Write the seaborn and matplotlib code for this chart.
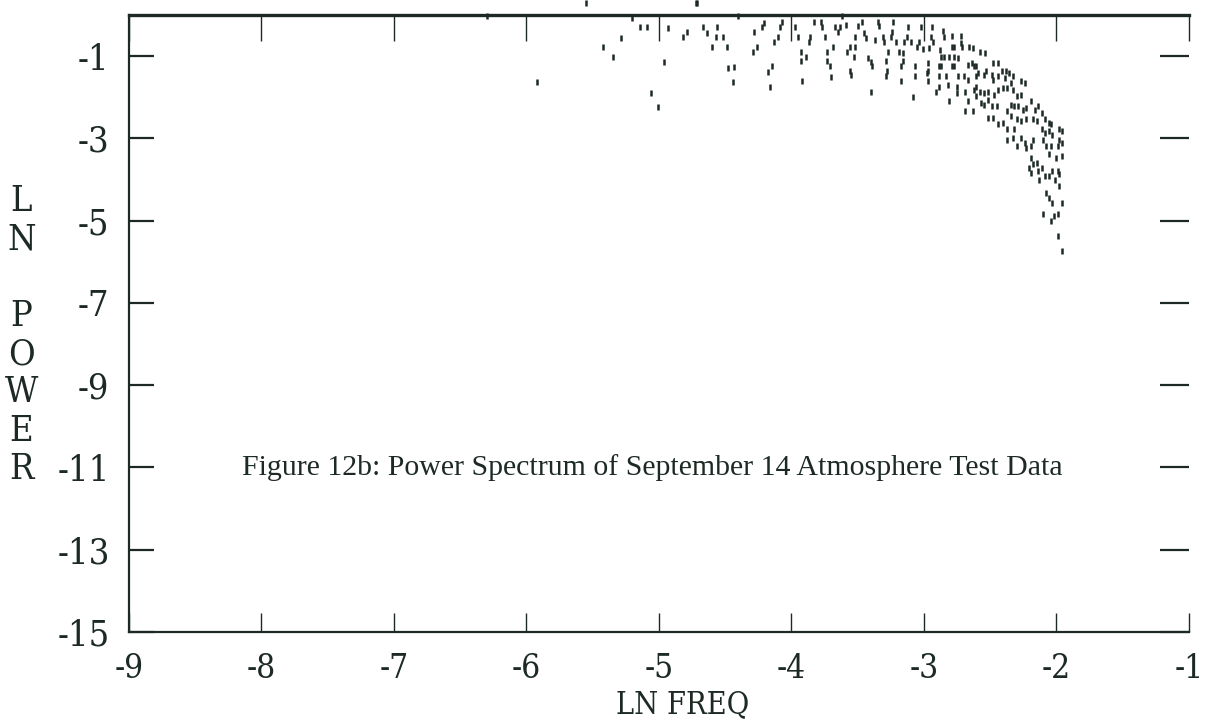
import matplotlib
matplotlib.use("Agg")
import matplotlib.pyplot as plt
import seaborn as sns
import pandas as pd

# ---- data (ln freq, ln power) ----
ln_freq = [
    -5.55, -4.72, -4.71, -6.30, -5.92,
    -5.20, -5.14, -5.09, -5.29, -5.42, -5.35, -4.93, -4.96, -5.06, -5.01,
    -4.82, -4.79, -4.67, -4.64, -4.56, -4.57, -4.52, -4.60, -4.49, -4.48,
    -4.43, -4.44, -4.40,
    -4.21, -4.22, -4.28, -4.07, -4.09, -3.97, -4.10, -4.13, -4.26, -4.29,
    -3.95, -3.86, -3.87, -3.93, -3.89, -3.93, -3.83, -3.78, -3.77, -3.75,
    -3.67, -3.63, -3.59, -3.65, -3.69, -3.73, -3.73, -3.71, -3.70, -3.62,
    -3.52, -3.56, -3.52, -3.58, -3.53, -3.56, -3.55, -3.50, -3.47, -3.45,
    -3.44, -3.42, -3.40, -3.39, -3.40, -3.35, -3.34, -3.37, -3.31, -3.30,
    -3.27, -3.29, -3.28, -3.29, -4.15, -4.18, -4.16, -3.92,
    -3.23, -3.24, -3.25, -3.21, -3.12, -3.13, -3.15, -3.10, -3.02, -2.94,
    -2.95, -2.93, -3.04, -3.05, -3.19, -3.16, -3.01, -2.96, -2.86, -2.85,
    -2.79, -2.72, -2.79, -2.77, -2.72, -2.71, -2.66, -2.88, -2.87, -2.85,
    -2.81, -2.77, -2.74, -3.16, -3.17, -3.07, -2.97, -2.97, -2.89, -2.87,
    -2.79, -2.77, -2.67, -2.64, -2.61, -3.07, -2.98, -2.89, -2.83, -2.74,
    -2.70, -2.67, -2.61, -3.17, -2.97, -2.89, -2.82, -2.91, -2.75, -2.75,
    -2.69, -2.61, -2.61, -3.08, -2.81, -2.67, -2.69, -2.63, -2.57,
    -2.63, -2.58, -2.54, -2.62, -2.59, -2.55, -2.53, -2.48, -2.44, -2.49,
    -2.48, -2.44, -2.41, -2.38, -2.39, -2.36, -2.33, -2.34, -2.62, -2.58,
    -2.55, -2.52, -2.55, -2.52, -2.47, -2.44, -2.40, -2.37, -2.33, -2.27,
    -2.24, -2.30, -2.27, -2.49, -2.45, -2.34, -2.32, -2.29, -2.25, -2.23,
    -2.19, -2.16, -2.14, -2.11, -2.52, -2.48, -2.44, -2.40, -2.37, -2.34,
    -2.30, -2.27, -2.23, -2.18, -2.15, -2.09, -2.06, -2.04, -2.11, -2.09,
    -2.06, -2.03, -1.98, -1.96, -2.37, -2.32, -2.37, -2.33, -2.30, -2.23,
    -2.19, -2.18, -2.27, -2.24, -2.10, -2.08, -2.04, -1.98, -1.99, -1.96,
    -2.06, -2.00, -1.96, -2.19, -2.18, -2.15, -2.21, -2.19, -2.14, -2.11,
    -2.13, -2.09, -2.06, -2.03, -1.99, -1.98, -2.01, -1.98, -2.08, -2.06,
    -2.03, -1.96, -2.10, -2.04, -2.02, -1.99, -1.99, -1.96,
]
ln_power = [
    0.28, 0.30, 0.30, -0.02, -1.62,
    -0.08, -0.30, -0.30, -0.56, -0.79, -1.03, -0.31, -1.15, -1.90, -2.24,
    -0.54, -0.42, -0.28, -0.43, -0.30, -0.54, -0.54, -0.79, -0.79, -1.28,
    -1.26, -1.63, -0.02,
    -0.19, -0.28, -0.42, -0.16, -0.28, -0.28, -0.53, -0.66, -0.77, -0.90,
    -0.53, -0.53, -0.66, -0.90, -1.01, -1.13, -0.18, -0.18, -0.30, -0.54,
    -0.28, -0.28, -0.24, -0.42, -0.78, -0.90, -1.13, -1.25, -1.51, -0.02,
    -0.53, -0.78, -0.78, -0.90, -1.01, -1.37, -1.47, -0.27, -0.16, -0.44,
    -0.56, -1.05, -1.15, -1.25, -1.86, -0.16, -0.27, -0.61, -0.53, -0.66,
    -0.90, -1.13, -1.37, -1.49, -1.25, -1.39, -1.74, -1.61,
    -0.16, -0.42, -0.53, -0.65, -0.28, -0.53, -0.66, -0.65, -0.28, -0.28,
    -0.53, -0.65, -0.65, -0.77, -0.89, -0.93, -0.83, -0.81, -0.40, -0.53,
    -0.51, -0.51, -0.77, -0.77, -0.69, -0.78, -0.77, -0.85, -1.01, -1.01,
    -1.01, -1.01, -1.05, -1.13, -1.25, -1.25, -1.17, -1.37, -1.25, -1.25,
    -1.25, -1.25, -1.21, -1.17, -1.23, -1.49, -1.41, -1.49, -1.49, -1.49,
    -1.49, -1.57, -1.49, -1.61, -1.61, -1.74, -1.69, -1.86, -1.74, -1.90,
    -1.86, -1.75, -1.98, -1.99, -2.10, -2.10, -2.34, -2.34, -2.14,
    -0.81, -0.89, -0.93, -1.25, -1.41, -1.45, -1.37, -1.17, -1.17, -1.45,
    -1.57, -1.49, -1.37, -1.37, -1.53, -1.41, -1.49, -1.65, -1.82, -1.86,
    -1.90, -1.86, -2.18, -2.06, -1.94, -1.82, -1.77, -1.77, -1.82, -1.61,
    -1.65, -1.98, -1.94, -2.22, -2.22, -2.18, -2.22, -2.22, -2.30, -2.26,
    -2.10, -2.30, -2.22, -2.38, -2.50, -2.50, -2.66, -2.62, -2.34, -2.46,
    -2.54, -2.58, -2.54, -2.54, -2.58, -2.54, -2.62, -2.66, -2.78, -2.86,
    -2.83, -2.91, -2.78, -2.83, -2.78, -2.78, -3.03, -2.99, -3.19, -3.23,
    -3.19, -3.03, -2.99, -3.11, -3.03, -3.19, -3.19, -3.03, -3.19, -3.11,
    -3.39, -3.47, -3.43, -3.47, -3.63, -3.59, -3.71, -3.83, -3.79, -3.71,
    -4.00, -3.92, -3.92, -3.79, -3.79, -3.87, -4.00, -4.16, -4.32, -4.44,
    -4.56, -4.56, -4.84, -5.00, -4.88, -4.84, -5.37, -5.73,
]

x_ticks = [-9, -8, -7, -6, -5, -4, -3, -2, -1]
y_ticks = [-1, -3, -5, -7, -9, -11, -13, -15]
caption = "Figure 12b: Power Spectrum of September 14 Atmosphere Test Data"

df = pd.DataFrame({"ln_freq": ln_freq, "ln_power": ln_power})

sns.set_style("ticks")
plt.rcParams["font.family"] = ["DejaVu Serif", "DejaVu Sans"]
plt.rcParams["font.stretch"] = "condensed"

ink = "#1d2a24"
fig = plt.figure(figsize=(12.12, 7.21), dpi=100)
ax = fig.add_axes([0.1064, 0.1234, 0.8746, 0.8558])

sns.scatterplot(data=df, x="ln_freq", y="ln_power", ax=ax, marker="|",
                s=16, linewidth=1.8, color=ink, clip_on=False, legend=False)

ax.set_xlim(-9, -1)
ax.set_ylim(-15, 0)
ax.set_xticks(x_ticks)
ax.set_yticks(y_ticks)
ax.set_xticklabels([str(t) for t in x_ticks])
ax.set_yticklabels([str(t) for t in y_ticks])

for side in ["left", "bottom"]:
    ax.spines[side].set_linewidth(1.6)
    ax.spines[side].set_color(ink)
ax.spines["top"].set_linewidth(2.4)
ax.spines["top"].set_color(ink)
ax.spines["right"].set_visible(False)

ax.tick_params(axis="x", which="both", direction="in", top=True, bottom=True,
               length=14, width=1.0, color=ink, labelsize=24, labelcolor=ink, pad=15)
ax.tick_params(axis="y", which="both", direction="in", left=True, right=True,
               length=18, width=1.6, color=ink, labelsize=26, labelcolor=ink, pad=14)
for t in ax.xaxis.get_major_ticks():
    t.tick2line.set_markersize(19)
for t in ax.yaxis.get_major_ticks():
    t.tick2line.set_markersize(21)

ax.set_xlabel("")
ax.set_ylabel("")
fig.text(0.5635, 0.001, "LN FREQ", fontsize=22, color=ink, ha="center", va="bottom")
fig.text(0.0175, 0.745, "L\nN\n \nP\nO\nW\nE\nR", fontsize=26, color=ink,
         ha="center", va="top", linespacing=1.16)

ax.text(-8.15, -11, caption, fontsize=21.5, color=ink, family="Liberation Serif",
        stretch="normal", ha="left", va="center")

fig.savefig("out.png", dpi=100)
